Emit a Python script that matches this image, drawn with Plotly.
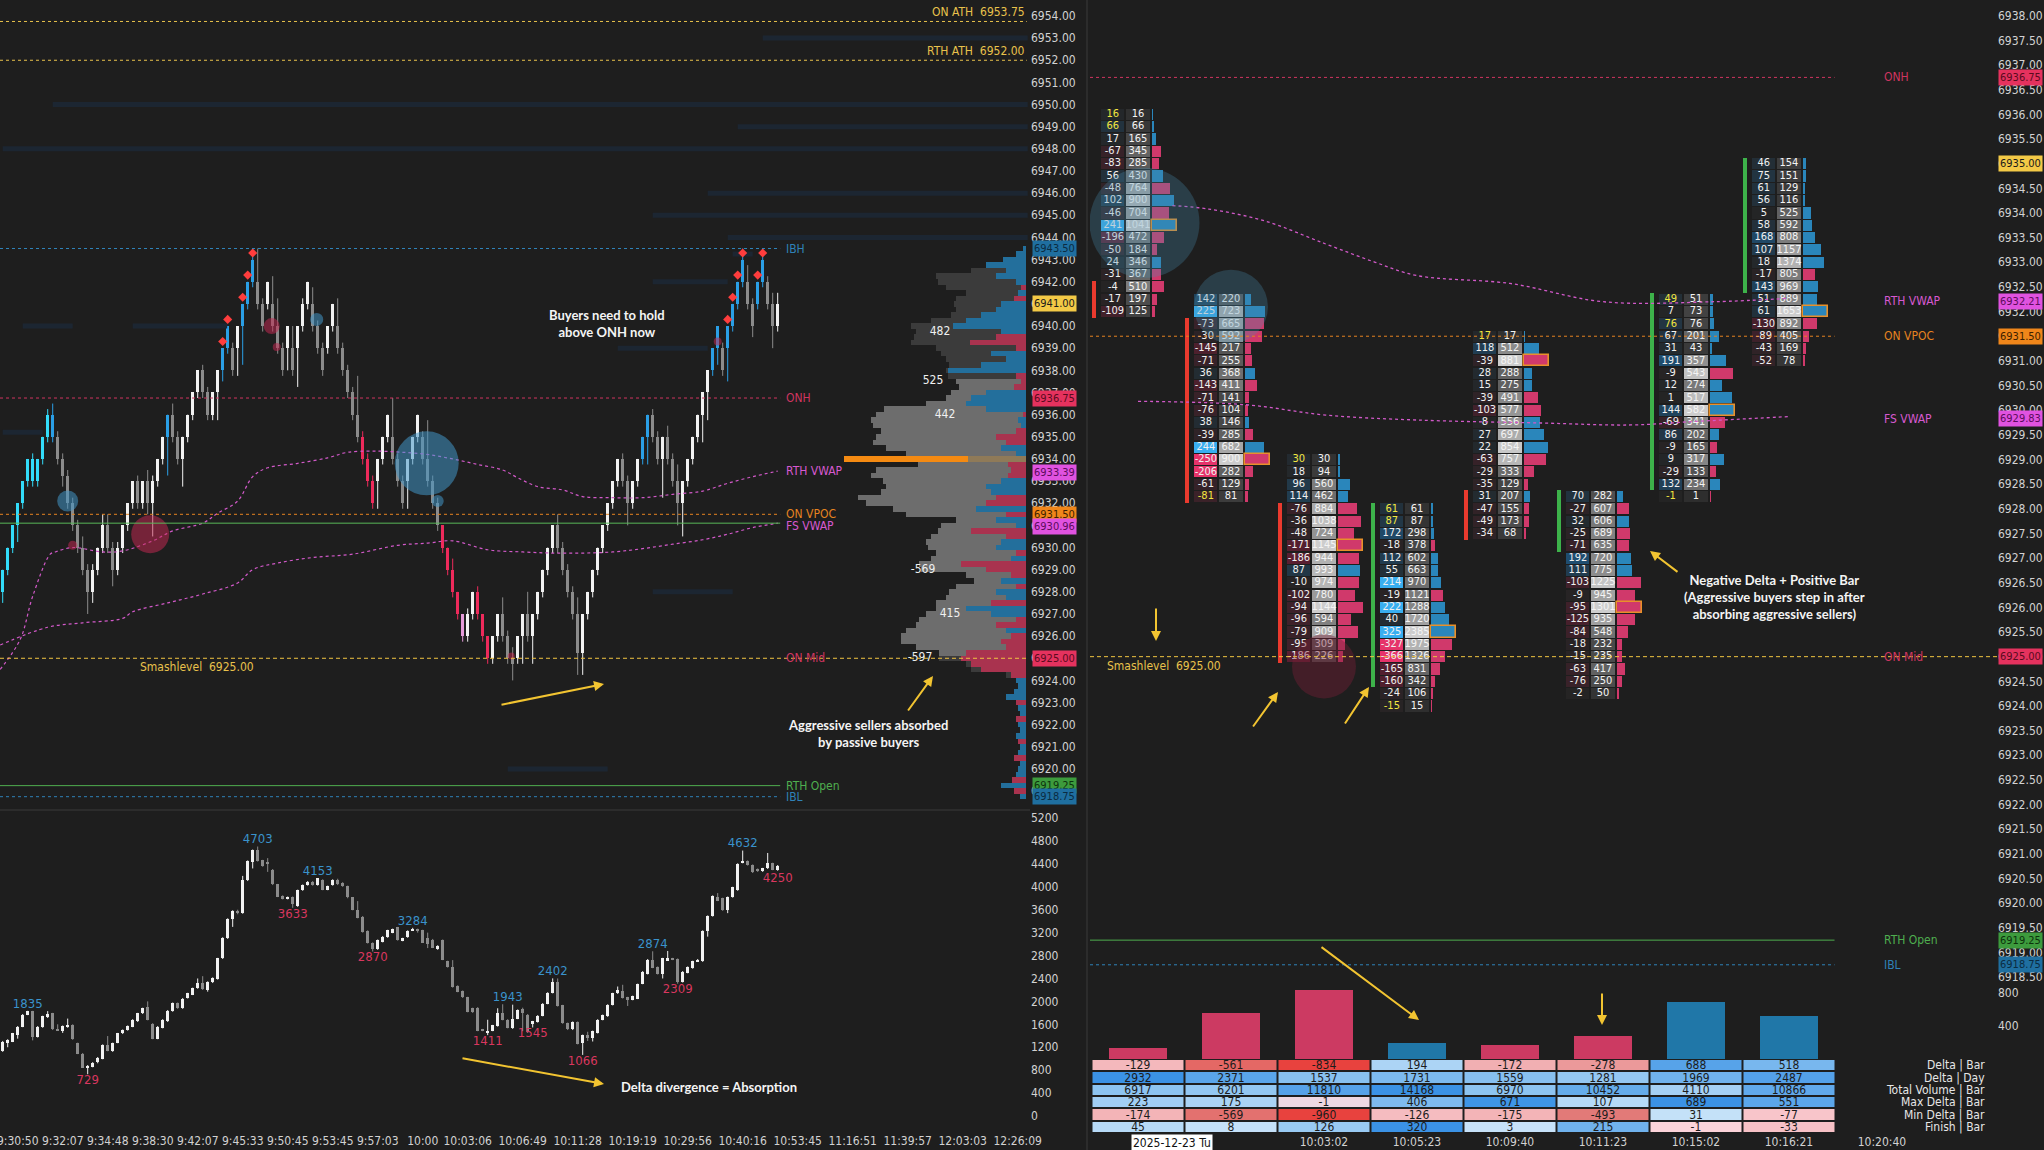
import plotly.graph_objects as go

W, H = 2044, 1150
BG = '#1e1e1e'
AXIS_TXT = '#d2d2d2'
NARROW = 'Liberation Sans Narrow, DejaVu Sans Condensed, Arial Narrow, sans-serif'
NOTE_FONT = 'Lato, Inter, sans-serif'

# ---------------- left chart: price candles (open, high, low, close) ----------------
price_ohlc = [
    (6928.0, 6929.0, 6927.5, 6929.0), (6929.0, 6930.0, 6928.75, 6930.0), (6930.0, 6931.0, 6929.75, 6931.0),
    (6931.0, 6932.0, 6930.25, 6932.0), (6932.0, 6933.0, 6931.75, 6933.0), (6933.0, 6934.0, 6932.75, 6934.0),
    (6934.0, 6934.25, 6932.75, 6933.0), (6933.0, 6934.0, 6932.75, 6934.0), (6934.0, 6935.0, 6933.75, 6935.0),
    (6935.0, 6936.25, 6934.75, 6936.0), (6936.0, 6936.5, 6934.75, 6935.0), (6935.0, 6935.25, 6933.75, 6934.0),
    (6934.0, 6934.25, 6932.75, 6933.25), (6933.25, 6933.5, 6931.75, 6932.0), (6932.0, 6932.25, 6930.75, 6931.0),
    (6931.0, 6931.25, 6929.75, 6930.0), (6930.0, 6930.5, 6928.75, 6929.0), (6929.0, 6929.25, 6927.0, 6928.0),
    (6928.0, 6929.25, 6927.5, 6929.0), (6929.0, 6930.0, 6928.75, 6930.0), (6930.0, 6931.5, 6929.75, 6931.0),
    (6931.0, 6931.5, 6929.75, 6930.0), (6930.0, 6930.25, 6928.25, 6929.0), (6929.0, 6930.25, 6928.75, 6930.0),
    (6930.0, 6931.0, 6929.75, 6931.0), (6931.0, 6932.0, 6930.75, 6932.0), (6932.0, 6933.0, 6931.75, 6933.0),
    (6933.0, 6933.25, 6931.75, 6932.0), (6932.0, 6933.0, 6931.75, 6933.0), (6933.0, 6933.5, 6931.5, 6932.0),
    (6932.0, 6933.25, 6930.5, 6933.0), (6933.0, 6934.0, 6932.75, 6934.0), (6934.0, 6935.0, 6933.75, 6935.0),
    (6935.0, 6936.0, 6933.25, 6936.0), (6936.0, 6936.5, 6934.75, 6935.0), (6935.0, 6935.25, 6933.75, 6934.0),
    (6934.0, 6935.0, 6932.75, 6935.0), (6935.0, 6936.0, 6934.75, 6936.0), (6936.0, 6937.0, 6935.75, 6937.0),
    (6937.0, 6938.0, 6936.75, 6938.0), (6938.0, 6938.25, 6936.75, 6937.0), (6937.0, 6937.25, 6935.75, 6936.0),
    (6936.0, 6937.0, 6935.75, 6937.0), (6937.0, 6938.0, 6935.75, 6938.0), (6938.0, 6939.0, 6937.5, 6939.0),
    (6939.0, 6940.0, 6938.75, 6940.0), (6939.0, 6939.25, 6937.75, 6938.0), (6939.0, 6940.0, 6937.75, 6940.0),
    (6940.0, 6941.0, 6938.25, 6941.0), (6941.0, 6942.0, 6940.75, 6942.0), (6942.0, 6943.5, 6941.75, 6943.0),
    (6942.0, 6943.5, 6940.75, 6941.0), (6941.0, 6941.25, 6939.75, 6940.0), (6941.0, 6942.0, 6940.75, 6942.0),
    (6941.0, 6942.25, 6939.75, 6940.0), (6940.0, 6941.25, 6938.75, 6939.0), (6939.0, 6939.25, 6937.75, 6938.0),
    (6939.0, 6940.0, 6938.0, 6940.0), (6939.0, 6940.0, 6937.75, 6938.0), (6939.0, 6940.0, 6937.25, 6940.0),
    (6940.0, 6941.25, 6939.75, 6941.0), (6941.0, 6942.0, 6940.75, 6942.0), (6941.0, 6941.75, 6939.75, 6940.0),
    (6940.0, 6940.25, 6938.75, 6939.0), (6939.0, 6939.25, 6937.75, 6938.0), (6939.0, 6940.0, 6938.75, 6940.0),
    (6940.0, 6941.0, 6939.75, 6941.0), (6940.0, 6941.25, 6938.75, 6939.0), (6939.0, 6939.25, 6937.75, 6938.0),
    (6938.0, 6938.25, 6936.75, 6937.0), (6937.0, 6937.25, 6935.75, 6936.0), (6936.0, 6937.75, 6934.75, 6935.0),
    (6935.0, 6935.25, 6933.75, 6934.0), (6934.0, 6934.25, 6932.75, 6933.0), (6933.0, 6933.25, 6931.75, 6932.0),
    (6933.0, 6934.0, 6931.75, 6934.0), (6934.0, 6935.0, 6933.75, 6935.0), (6935.0, 6936.0, 6934.75, 6936.0),
    (6935.0, 6936.75, 6933.75, 6934.0), (6934.0, 6934.25, 6932.75, 6933.0), (6933.0, 6933.25, 6931.75, 6932.0),
    (6933.0, 6934.0, 6931.75, 6934.0), (6934.0, 6935.0, 6933.75, 6935.0), (6935.0, 6936.0, 6934.75, 6936.0),
    (6935.0, 6935.25, 6933.75, 6934.0), (6934.0, 6935.75, 6932.75, 6933.0), (6933.0, 6933.25, 6931.75, 6932.0),
    (6932.0, 6932.25, 6930.75, 6931.0), (6931.0, 6931.0, 6929.75, 6930.0), (6930.0, 6930.0, 6928.75, 6929.0),
    (6929.0, 6929.5, 6927.75, 6928.0), (6928.0, 6928.0, 6926.75, 6927.0), (6927.0, 6927.0, 6925.75, 6926.0),
    (6926.0, 6927.25, 6925.75, 6927.0), (6927.0, 6928.0, 6926.75, 6928.0), (6928.0, 6928.25, 6926.75, 6927.0),
    (6927.0, 6927.0, 6925.75, 6926.0), (6926.0, 6926.0, 6924.75, 6925.0), (6925.0, 6926.0, 6924.75, 6926.0),
    (6926.0, 6927.0, 6925.75, 6927.0), (6927.0, 6927.75, 6925.75, 6926.0), (6926.0, 6926.25, 6924.75, 6925.0),
    (6925.0, 6925.5, 6924.0, 6924.75), (6925.0, 6926.0, 6924.75, 6926.0), (6926.0, 6927.0, 6924.75, 6927.0),
    (6927.0, 6928.0, 6925.75, 6926.0), (6926.0, 6927.0, 6924.75, 6927.0), (6927.0, 6928.0, 6926.75, 6928.0),
    (6928.0, 6929.0, 6927.75, 6929.0), (6929.0, 6930.0, 6928.75, 6930.0), (6930.0, 6931.0, 6929.75, 6931.0),
    (6931.0, 6931.5, 6929.75, 6930.0), (6930.0, 6930.25, 6928.75, 6929.0), (6929.0, 6929.25, 6927.75, 6928.0),
    (6928.0, 6928.25, 6926.75, 6927.0), (6927.0, 6927.75, 6924.25, 6925.25), (6925.25, 6927.0, 6924.25, 6927.0),
    (6927.0, 6928.0, 6926.75, 6928.0), (6928.0, 6929.0, 6927.75, 6929.0), (6929.0, 6930.0, 6928.75, 6930.0),
    (6930.0, 6931.0, 6929.75, 6931.0), (6931.0, 6932.0, 6930.75, 6932.0), (6932.0, 6933.0, 6931.75, 6933.0),
    (6933.0, 6934.0, 6932.75, 6934.0), (6934.0, 6934.25, 6932.75, 6933.0), (6933.0, 6933.25, 6931.0, 6932.0),
    (6932.0, 6933.0, 6931.75, 6933.0), (6933.0, 6934.0, 6932.75, 6934.0), (6934.0, 6935.0, 6933.75, 6935.0),
    (6935.0, 6936.0, 6933.75, 6936.0), (6936.0, 6936.25, 6934.75, 6935.0), (6935.0, 6935.25, 6933.75, 6934.0),
    (6934.0, 6935.0, 6932.25, 6935.0), (6935.0, 6935.5, 6933.75, 6934.0), (6934.0, 6934.25, 6932.75, 6933.0),
    (6933.0, 6933.75, 6931.0, 6932.0), (6932.0, 6933.0, 6930.5, 6933.0), (6933.0, 6934.0, 6932.75, 6934.0),
    (6934.0, 6935.0, 6933.75, 6935.0), (6935.0, 6936.0, 6934.75, 6936.0), (6936.0, 6937.0, 6934.75, 6937.0),
    (6937.0, 6938.0, 6935.75, 6938.0), (6938.0, 6939.0, 6937.75, 6939.0), (6939.0, 6940.0, 6938.25, 6940.0),
    (6939.0, 6939.25, 6937.75, 6938.0), (6939.0, 6940.0, 6937.5, 6940.0), (6940.0, 6941.0, 6939.75, 6941.0),
    (6941.0, 6942.0, 6940.75, 6942.0), (6942.0, 6943.5, 6941.75, 6943.0), (6942.0, 6942.75, 6940.75, 6941.0),
    (6941.0, 6941.25, 6939.5, 6940.0), (6941.0, 6942.0, 6940.75, 6942.0), (6942.0, 6943.5, 6941.75, 6943.0),
    (6942.0, 6942.25, 6940.75, 6941.0), (6941.0, 6941.5, 6939.0, 6940.0), (6940.0, 6941.5, 6939.75, 6941.0),
]
# order-flow tint per bar: c strong buy, b buy, w up, g down, r sell, p weak sell
bar_flag = ("cccccccccc" "b" "ggggggg" "www" "gg" "wwww" "g" "w" "g" "www" "b" "gg" "wwww" "gg" "ww"
            "bb" "g" "w" "bbb" "gg" "w" "ggg" "w" "g" "www" "ggg" "ww" "ggggg" "rrr" "www" "ggg" "www"
            "gggg" "rrrr" "p" "ww" "rrr" "ww" "ggg" "ww" "g" "wwwww" "ggggg" "wwwwwwww" "gg" "ww" "bb"
            "gg" "w" "ggg" "wwwwww" "bb" "g" "bbbb" "gg" "bb" "gg" "w")
diamond_bars = [44, 45, 48, 49, 50, 145, 146, 147, 148, 151, 152]

time_tick_bars = [3, 12, 21, 30, 39, 48, 57, 66, 75, 84, 93, 104, 115, 126, 137, 148, 159, 170, 181, 192, 203]
time_tick_text = ['9:30:50', '9:32:07', '9:34:48', '9:38:30', '9:42:07', '9:45:33', '9:50:45', '9:53:45',
                  '9:57:03', '10:00', '10:03:06', '10:06:49', '10:11:28', '10:19:19', '10:29:56', '10:40:16',
                  '10:53:45', '11:16:51', '11:39:57', '12:03:03', '12:26:09']

# cumulative delta candles (open, high, low, close)
delta_ohlc = [
    (1140, 1310, 1120, 1300), (1270, 1340, 1200, 1330), (1300, 1450, 1290, 1440), (1410, 1570, 1350, 1560),
    (1560, 1780, 1550, 1770), (1770, 1835, 1760, 1835), (1830, 1835, 1320, 1385), (1380, 1570, 1370, 1560),
    (1560, 1750, 1540, 1740), (1720, 1830, 1710, 1780), (1790, 1800, 1500, 1510), (1520, 1600, 1490, 1500),
    (1480, 1580, 1450, 1570), (1550, 1700, 1540, 1590), (1590, 1600, 1330, 1340), (1270, 1280, 1080, 1090),
    (1090, 1100, 840, 843), (850, 890, 729, 880), (860, 940, 850, 930), (935, 1030, 920, 1020),
    (1000, 1250, 990, 1240), (1240, 1395, 1130, 1140), (1140, 1280, 1120, 1270), (1280, 1450, 1270, 1440),
    (1440, 1510, 1430, 1500), (1500, 1580, 1490, 1570), (1560, 1690, 1550, 1680), (1650, 1800, 1640, 1790),
    (1790, 1890, 1780, 1880), (1900, 2000, 1670, 1680), (1610, 1620, 1340, 1350), (1350, 1570, 1340, 1560),
    (1540, 1690, 1530, 1680), (1650, 1850, 1640, 1840), (1830, 1980, 1820, 1970), (1970, 1980, 1870, 1880),
    (1880, 2060, 1870, 2050), (2060, 2150, 2050, 2140), (2120, 2240, 2110, 2230), (2230, 2400, 2220, 2320),
    (2320, 2440, 2200, 2210), (2200, 2350, 2170, 2340), (2330, 2420, 2320, 2410), (2390, 2760, 2380, 2750),
    (2750, 3120, 2740, 3110), (3100, 3450, 3090, 3440), (3430, 3590, 3300, 3580), (3580, 3600, 3520, 3540),
    (3540, 4190, 3530, 4120), (4110, 4460, 4100, 4450), (4440, 4650, 4320, 4640), (4640, 4703, 4440, 4450),
    (4460, 4470, 4350, 4370), (4420, 4500, 4260, 4400), (4300, 4310, 4030, 4040), (4040, 4050, 3820, 3830),
    (3840, 3850, 3780, 3790), (3790, 3830, 3780, 3820), (3820, 3830, 3633, 3700), (3660, 3950, 3650, 3940),
    (3940, 4040, 3930, 4030), (4030, 4100, 4020, 4090), (4090, 4100, 4020, 4030), (4030, 4153, 4020, 4150),
    (4120, 4130, 3940, 3950), (3950, 4020, 3940, 4010), (4030, 4130, 4020, 4120), (4120, 4140, 4030, 4040),
    (4070, 4080, 4000, 4010), (4010, 4020, 3800, 3815), (3815, 3820, 3590, 3594), (3600, 3750, 3450, 3460),
    (3480, 3490, 3200, 3215), (3230, 3240, 3010, 3025), (3025, 3030, 2870, 2907), (2907, 3080, 2900, 3070),
    (3040, 3140, 3030, 3130), (3120, 3250, 3110, 3245), (3200, 3270, 3190, 3260), (3290, 3300, 3060, 3070),
    (3060, 3110, 3050, 3100), (3120, 3240, 3110, 3230), (3240, 3284, 3230, 3250), (3250, 3270, 3200, 3240),
    (3240, 3250, 3020, 3025), (3100, 3200, 2930, 3000), (3080, 3090, 2930, 2940), (2920, 2980, 2900, 2970),
    (3070, 3080, 2720, 2730), (2700, 2710, 2590, 2600), (2600, 2720, 2240, 2250), (2270, 2280, 2160, 2170),
    (2180, 2190, 2060, 2070), (2070, 2080, 1810, 1820), (1880, 1890, 1800, 1810), (1890, 1900, 1480, 1490),
    (1510, 1520, 1480, 1490), (1460, 1680, 1411, 1490), (1490, 1590, 1480, 1580), (1570, 1880, 1560, 1790),
    (1790, 1950, 1670, 1680), (1680, 1690, 1530, 1540), (1530, 1943, 1520, 1700), (1700, 1860, 1690, 1850),
    (1860, 1890, 1480, 1790), (1770, 1780, 1450, 1460), (1600, 1660, 1545, 1650), (1640, 1760, 1630, 1750),
    (1750, 1970, 1740, 1960), (1960, 2160, 1950, 2150), (2150, 2402, 2140, 2340), (2330, 2400, 1910, 1920),
    (1930, 1940, 1610, 1620), (1620, 1630, 1500, 1510), (1510, 1650, 1500, 1640), (1640, 1650, 1250, 1260),
    (1270, 1420, 1066, 1410), (1410, 1470, 1310, 1370), (1360, 1490, 1300, 1480), (1450, 1690, 1440, 1680),
    (1680, 1770, 1670, 1760), (1740, 1950, 1730, 1940), (1940, 2150, 1930, 2140), (2140, 2260, 2130, 2200),
    (2190, 2290, 2050, 2060), (2070, 2080, 1920, 2020), (2030, 2100, 2020, 2090), (2050, 2310, 2040, 2300),
    (2310, 2530, 2300, 2520), (2480, 2740, 2470, 2730), (2730, 2874, 2580, 2590), (2600, 2610, 2470, 2480),
    (2480, 2760, 2400, 2750), (2720, 2880, 2710, 2750), (2740, 2760, 2720, 2730), (2740, 2750, 2309, 2340),
    (2340, 2530, 2330, 2520), (2500, 2610, 2490, 2600), (2580, 2710, 2570, 2700), (2700, 2740, 2690, 2730),
    (2700, 3240, 2690, 3230), (3220, 3500, 3130, 3490), (3490, 3850, 3480, 3840), (3830, 3890, 3750, 3760),
    (3800, 3810, 3580, 3590), (3590, 3830, 3540, 3820), (3820, 4000, 3810, 3990), (3940, 4410, 3930, 4400),
    (4420, 4632, 4410, 4450), (4450, 4460, 4370, 4380), (4380, 4390, 4240, 4250), (4310, 4320, 4260, 4270),
    (4270, 4330, 4260, 4320), (4320, 4590, 4310, 4410), (4410, 4420, 4290, 4300), (4290, 4380, 4280, 4370),
]
swing_high_bars = [5, 51, 63, 82, 101, 110, 130, 148]
swing_high_vals = [1835, 4703, 4153, 3284, 1943, 2402, 2874, 4632]
swing_low_bars = [17, 58, 74, 97, 106, 116, 135, 155]
swing_low_vals = [729, 3633, 2870, 1411, 1545, 1066, 2309, 4250]

# session VWAPs sampled along the chart (bar index, price)
rth_vwap_bars = [-0.5, 3.5, 6, 9.5, 10.5, 14, 20, 24, 30, 34, 40, 43, 47, 50, 53, 59, 65, 69, 75, 80, 85, 90,
                 95, 100, 103, 107, 112, 116, 122, 128, 134, 140, 145, 150, 155]
rth_vwap_vals = [6924.5, 6925.85, 6927.8, 6929.7, 6929.8, 6930.0, 6929.8, 6929.85, 6930.3, 6930.75, 6931.1,
                 6931.55, 6932.1, 6933.2, 6933.6, 6933.8, 6934.05, 6934.3, 6934.35, 6934.3, 6934.2, 6934.0,
                 6933.75, 6933.5, 6933.15, 6932.75, 6932.6, 6932.3, 6932.25, 6932.25, 6932.4, 6932.55,
                 6932.9, 6933.2, 6933.45]
fs_vwap_bars = [-0.5, 9, 16, 24, 26, 33, 40, 47, 50, 55, 62, 70, 79, 85, 90, 97, 104, 110, 116, 122, 128,
                134, 140, 145, 150, 155]
fs_vwap_vals = [6925.6, 6926.4, 6926.6, 6926.8, 6927.1, 6927.5, 6927.9, 6928.4, 6929.0, 6929.3, 6929.55,
                6929.7, 6930.1, 6930.2, 6930.3, 6929.9, 6929.8, 6929.75, 6929.75, 6929.8, 6929.95, 6930.15,
                6930.35, 6930.6, 6930.9, 6931.1]

# large trades (bar, price, contracts, side)
big_bars = [13, 14, 29.5, 53.8, 54.8, 62.8, 84.8, 87, 101.7, 143]
big_prices = [6932.1, 6930.1, 6930.6, 6940.0, 6939.05, 6940.3, 6933.8, 6932.1, 6925.1, 6939.3]
big_qty = [91, 17, 298, 53, 13, 35, 846, 30, 10, 13]
big_side = ['buy', 'sell', 'sell', 'sell', 'sell', 'buy', 'buy', 'buy', 'sell', 'sell']

# resting liquidity (price, from bar, to bar)
liq_price = [6953.0, 6950.0, 6949.0, 6948.0, 6946.0, 6945.0, 6944.0, 6943.25, 6942.0, 6940.0, 6940.0,
             6939.0, 6935.2, 6928.0, 6920.0]
liq_from = [152, 10, 147, 0, 141, 130, 145, 146, 130, 4, 26, 123, 0, 130, 101]
liq_to = [205, 205, 205, 205, 205, 205, 205, 150, 145, 14, 45, 141, 8, 146, 121]

# session volume profile, top price 6943.50 down in 0.25 steps
profile_top = 6943.5
profile_vol = [30, 100, 230, 400, 550, 900, 880, 800, 600, 700,
               720, 700, 750, 950, 1150, 1100, 1120, 1150, 900, 850,
               800, 770, 800, 780, 700, 670, 750, 800, 1000, 1420,
               1500, 1550, 1530, 1450, 1500, 1530, 1400, 1200, 1820, 1080,
               1500, 1550, 1430, 1400, 1450, 1680, 1600, 1330, 1200, 700,
               850, 880, 950, 1000, 980, 900, 950, 1070, 1050, 600,
               520, 700, 770, 800, 900, 900, 1000, 1070, 1100, 1200,
               1250, 1250, 1100, 870, 870, 600, 550, 200, 100, 80,
               120, 200, 100, 80, 60, 100, 80, 60, 100, 80,
               60, 80, 120, 60, 80, 100, 140, 250, 120, 60]
profile_delta = [30, 100, 230, 400, 200, 300, 100, -50, 80, -120,
                 250, 300, 450, 600, 730, 250, -300, -560, -100, 350,
                 200, 450, 780, -100, -50, -120, 400, 550, 600, 400,
                 -30, 80, 50, -100, -300, -200, 250, 100, 580, -180,
                 -150, -180, 250, 400, 350, -300, -400, 500, -200, 300,
                 100, -550, -200, 250, 300, -100, 150, -650, -400, -150,
                 250, -100, 300, 200, -350, 600, 350, -100, -300, 200,
                 -150, -250, -200, -600, -650, -550, -450, -150, 100, 80,
                 120, 200, -100, 80, 60, -100, 80, 60, 100, -80,
                 60, 80, -120, 60, 80, 100, -140, 250, -120, 60]
VAH, VAL, POC = 6937.5, 6925.25, 6934.0
profile_note_text = ['482', '525', '442', '-569', '415', '-597']
profile_note_price = [6939.75, 6937.5, 6936.0, 6929.0, 6927.0, 6925.0]

# key levels
ON_ATH, RTH_ATH, IBH, ONH = 6953.75, 6952.00, 6943.50, 6936.75
ON_VPOC, FS_LINE, ON_MID, RTH_OPEN, IBL = 6931.50, 6931.10, 6925.00, 6919.25, 6918.75
LAST_LEFT, RTH_VWAP_NOW, FS_VWAP_NOW = 6941.00, 6933.39, 6930.96

# ---------------- right chart: footprint bars ----------------
fp_top = [6936.0, 6932.25, 6929.0, 6928.0, 6931.5, 6928.25, 6932.25, 6935.0]
fp_open = [6932.5, 6931.75, 6928.0, 6924.5, 6928.25, 6927.25, 6928.5, 6932.5]
fp_close = [6932.0, 6928.25, 6925.0, 6928.0, 6927.5, 6928.25, 6932.25, 6935.0]
fp_delta = [
    [16, 66, 17, -67, -83, 56, -48, 102, -46, 241, -196, -50, 24, -31, -4, -17, -109],
    [142, 225, -73, -30, -145, -71, 36, -143, -71, -76, 38, -39, 244, -250, -206, -61, -81],
    [30, 18, 96, 114, -76, -36, -48, -171, -186, 87, -10, -102, -94, -96, -79, -95, -186],
    [61, 87, 172, -18, 112, 55, 214, -19, 222, 40, 325, -327, -366, -165, -160, -24, -15],
    [17, 118, -39, 28, 15, -39, -103, 8, 27, 22, -63, -29, -35, 31, -47, -49, -34],
    [70, -27, 32, -25, -71, 192, 111, -103, -9, -95, -125, -84, -18, -15, -63, -76, -2],
    [49, 7, 76, 67, 31, 191, -9, 12, 1, 144, -69, 86, -9, 9, -29, 132, -1],
    [46, 75, 61, 56, 5, 58, 168, 107, 18, -17, 143, 51, 61, -130, -89, -43, -52],
]
fp_vol = [
    [16, 66, 165, 345, 285, 430, 764, 900, 704, 1041, 472, 184, 346, 367, 510, 197, 125],
    [220, 723, 665, 592, 217, 255, 368, 411, 141, 104, 146, 285, 682, 900, 282, 129, 81],
    [30, 94, 560, 462, 884, 1038, 724, 1145, 944, 993, 974, 780, 1144, 594, 909, 309, 226],
    [61, 87, 298, 378, 602, 663, 970, 1121, 1288, 1720, 2385, 1975, 1326, 831, 342, 106, 15],
    [17, 512, 881, 288, 275, 491, 577, 556, 697, 854, 757, 333, 129, 207, 155, 173, 68],
    [282, 607, 606, 689, 635, 720, 775, 1225, 945, 1301, 935, 548, 232, 235, 417, 250, 50],
    [51, 73, 76, 201, 43, 357, 543, 274, 517, 582, 341, 202, 165, 317, 133, 234, 1],
    [154, 151, 129, 116, 525, 592, 808, 1157, 1374, 805, 969, 889, 1653, 892, 405, 169, 78],
]
fp_tick_bars = [2, 3, 4, 5, 6, 7, 8]
fp_tick_text = ['10:03:02', '10:05:23', '10:09:40', '10:11:23', '10:15:02', '10:16:21', '10:20:40']
fp_date = '2025-12-23 Tu'

fp_rth_vwap_x = [0.37, 0.76, 1.36, 2.02, 2.55, 3.0, 4.0, 5.0, 6.2, 7.0]
fp_rth_vwap_y = [6934.15, 6934.08, 6933.84, 6933.37, 6933.0, 6932.73, 6932.57, 6932.2, 6932.2, 6932.27]
fp_fs_vwap_x = [0.0, 1.16, 2.02, 3.0, 4.33, 5.3, 5.98, 7.0]
fp_fs_vwap_y = [6930.18, 6930.11, 6929.9, 6929.8, 6929.74, 6929.7, 6929.77, 6929.87]
FP_LAST, FP_RTH_VWAP, FP_FS_VWAP = 6935.00, 6932.21, 6929.83

fp_big_bars = [0.07, 1.0, 2.0]
fp_big_prices = [6933.8, 6932.1, 6924.8]
fp_big_qty = [2500, 1131, 846]
fp_big_side = ['buy', 'buy', 'sell']

table_labels = ['Delta | Bar', 'Delta | Day', 'Total Volume | Bar', 'Max Delta | Bar', 'Min Delta | Bar', 'Finish | Bar']
delta_bar = [-129, -561, -834, 194, -172, -278, 688, 518]
delta_day = [2932, 2371, 1537, 1731, 1559, 1281, 1969, 2487]
total_volume = [6917, 6201, 11810, 14168, 6970, 10452, 4110, 10866]
max_delta = [223, 175, -1, 406, 671, 107, 689, 551]
min_delta = [-174, -569, -960, -126, -175, -493, 31, -77]
finish = [45, 8, 126, 320, 3, 215, -1, -33]


# ---------------- helpers ----------------
def fx(px):
    return px / W


def fy(py):
    return 1 - py / H


def mix(c1, c2, t):
    t = max(0.0, min(1.0, t))
    a = [int(c1[i:i + 2], 16) for i in (1, 3, 5)]
    b = [int(c2[i:i + 2], 16) for i in (1, 3, 5)]
    return 'rgb(%d,%d,%d)' % tuple(round(a[j] + (b[j] - a[j]) * t) for j in range(3))


FLAG_COLORS = {'c': '#33dcfa', 'b': '#2b9fe6', 'w': '#f2f2f2', 'g': '#8c8c8c', 'r': '#ee2b5c', 'p': '#e59ad9'}
SIDE_COLORS = {'buy': 'rgba(66,150,200,0.78)', 'sell': 'rgba(196,40,82,0.75)'}

fig = go.Figure()

# ---------- left: resting liquidity ----------
lx, ly = [], []
for p, a, b in zip(liq_price, liq_from, liq_to):
    lx += [a, b, None]
    ly += [p, p, None]
fig.add_trace(go.Scatter(x=lx, y=ly, mode='lines', line=dict(color='#1c2632', width=5),
                         xaxis='x', yaxis='y', hoverinfo='skip'))

# ---------- left: candles ----------
n = len(price_ohlc)
bars = list(range(n))
for flag, col in FLAG_COLORS.items():
    idx = [i for i in bars if bar_flag[i] == flag]
    if not idx:
        continue
    wx, wy = [], []
    for i in idx:
        o, h, l, c = price_ohlc[i]
        wx += [i, i, None]
        wy += [l, h, None]
    fig.add_trace(go.Scatter(x=wx, y=wy, mode='lines', line=dict(color=col, width=1),
                             xaxis='x', yaxis='y', hoverinfo='skip'))
    fig.add_trace(go.Bar(x=idx, y=[max(abs(price_ohlc[i][3] - price_ohlc[i][0]), 0.06) for i in idx],
                         base=[min(price_ohlc[i][0], price_ohlc[i][3]) for i in idx], width=0.62,
                         marker=dict(color=col, line=dict(width=0)), xaxis='x', yaxis='y', hoverinfo='skip'))

# VWAP curves
for xs, ys in ((rth_vwap_bars, rth_vwap_vals), (fs_vwap_bars, fs_vwap_vals)):
    fig.add_trace(go.Scatter(x=xs, y=ys, mode='lines', line=dict(color='#d259c9', width=1.2, dash='dot', shape='spline'),
                             xaxis='x', yaxis='y', hoverinfo='skip'))

# diamonds
fig.add_trace(go.Scatter(x=diamond_bars, y=[price_ohlc[i][3] + 0.3 for i in diamond_bars], mode='markers',
                         marker=dict(symbol='diamond', size=7, color='#ff3d3d'), xaxis='x', yaxis='y',
                         hoverinfo='skip'))

# big trades
fig.add_trace(go.Scatter(x=big_bars, y=big_prices, mode='markers',
                         marker=dict(size=[2.2 * q ** 0.5 for q in big_qty],
                                     color=[SIDE_COLORS[s] for s in big_side], line=dict(width=0)),
                         xaxis='x', yaxis='y', hoverinfo='skip'))

# ---------- left: volume profile ----------
prof_prices = [profile_top - 0.25 * k for k in range(len(profile_vol))]
prof_cols = []
for p in prof_prices:
    if p == POC:
        prof_cols.append('#f48a12')
    elif VAL <= p <= VAH:
        prof_cols.append('#6d6d6d')
    else:
        prof_cols.append('#3b3b3b')
fig.add_trace(go.Bar(y=prof_prices, x=profile_vol, orientation='h', width=0.25,
                     marker=dict(color=prof_cols, line=dict(width=0)), xaxis='x6', yaxis='y', hoverinfo='skip'))
dcols = []
for p, d in zip(prof_prices, profile_delta):
    if p == POC:
        dcols.append('#8f7a58')
    else:
        dcols.append('#236f9c' if d > 0 else '#a9334f')
fig.add_trace(go.Bar(y=prof_prices, x=[abs(d) for d in profile_delta], orientation='h', width=0.25,
                     marker=dict(color=dcols, line=dict(width=0)), xaxis='x6', yaxis='y', hoverinfo='skip'))
note_depth = [860, 930, 810, 1030, 760, 1060]
fig.add_trace(go.Scatter(x=note_depth, y=profile_note_price, text=profile_note_text, mode='text',
                         textfont=dict(family=NARROW, size=12, color='#f0f0f0'), xaxis='x6', yaxis='y',
                         hoverinfo='skip'))

# ---------- left: cumulative delta ----------
for up, col in ((True, '#f2f2f2'), (False, '#8c8c8c')):
    idx = [i for i in bars if (delta_ohlc[i][3] >= delta_ohlc[i][0]) == up]
    wx, wy = [], []
    for i in idx:
        o, h, l, c = delta_ohlc[i]
        wx += [i, i, None]
        wy += [l, h, None]
    fig.add_trace(go.Scatter(x=wx, y=wy, mode='lines', line=dict(color=col, width=1),
                             xaxis='x2', yaxis='y2', hoverinfo='skip'))
    fig.add_trace(go.Bar(x=idx, y=[max(abs(delta_ohlc[i][3] - delta_ohlc[i][0]), 10) for i in idx],
                         base=[min(delta_ohlc[i][0], delta_ohlc[i][3]) for i in idx], width=0.62,
                         marker=dict(color=col, line=dict(width=0)), xaxis='x2', yaxis='y2', hoverinfo='skip'))
fig.add_trace(go.Scatter(x=swing_high_bars, y=swing_high_vals, text=[str(v) for v in swing_high_vals],
                         mode='text', textposition='top center',
                         textfont=dict(family=NARROW, size=13, color='#3a93cc'), xaxis='x2', yaxis='y2',
                         hoverinfo='skip'))
fig.add_trace(go.Scatter(x=swing_low_bars, y=swing_low_vals, text=[str(v) for v in swing_low_vals],
                         mode='text', textposition='bottom center',
                         textfont=dict(family=NARROW, size=13, color='#d9375f'), xaxis='x2', yaxis='y2',
                         hoverinfo='skip'))

# ---------- right: footprint ----------
dc_y, dc_base, dc_col, dt_col, dt_txt = [], [], [], [], []
vc_y, vc_col, vt_txt = [], [], []
hy, hlen, hbase, hcol, hlw = [], [], [], [], []
vc_base, vt_x, dt_x = [], [], []
for i in range(len(fp_top)):
    vmax = max(fp_vol[i])
    for k, (dv, vv) in enumerate(zip(fp_delta[i], fp_vol[i])):
        p = fp_top[i] - 0.25 * k
        # delta cell
        dc_y.append(p)
        dc_base.append(i - 0.395)
        if dv >= 200:
            dc_col.append('#38aef0')
        elif dv <= -200:
            dc_col.append('#e6336a')
        elif dv >= 0:
            dc_col.append(mix('#242424', '#1f4f72', dv / 200))
        else:
            dc_col.append(mix('#242424', '#5c1e31', -dv / 200))
        dt_x.append(i - 0.27)
        dt_txt.append(str(dv))
        dt_col.append('#f2e640' if abs(dv) >= 0.9 * vv else '#f0f0f0')
        # volume cell
        vc_y.append(p)
        vc_base.append(i - 0.125)
        vc_col.append(mix('#2e2e2e', '#cdcdcd', vv / vmax))
        vt_x.append(i)
        vt_txt.append(str(vv))
        # histogram
        hy.append(p)
        hbase.append(i + 0.155)
        hlen.append(0.265 * vv / vmax)
        hcol.append('#2a86bb' if dv > 0 else '#d0396b')
        hlw.append(1.6 if vv == vmax else 0)

fig.add_trace(go.Bar(y=dc_y, x=[0.245] * len(dc_y), base=dc_base, orientation='h', width=0.225,
                     marker=dict(color=dc_col, line=dict(width=0)), xaxis='x3', yaxis='y3', hoverinfo='skip'))
fig.add_trace(go.Bar(y=vc_y, x=[0.25] * len(vc_y), base=vc_base, orientation='h', width=0.225,
                     marker=dict(color=vc_col, line=dict(width=0)), xaxis='x3', yaxis='y3', hoverinfo='skip'))
fig.add_trace(go.Bar(y=hy, x=hlen, base=hbase, orientation='h', width=0.225,
                     marker=dict(color=hcol, line=dict(width=hlw, color='#e8902a')),
                     xaxis='x3', yaxis='y3', hoverinfo='skip'))
fig.add_trace(go.Scatter(x=dt_x, y=dc_y, text=dt_txt, mode='text',
                         textfont=dict(family=NARROW, size=11, color=dt_col), xaxis='x3', yaxis='y3',
                         hoverinfo='skip'))
fig.add_trace(go.Scatter(x=vt_x, y=vc_y, text=vt_txt, mode='text',
                         textfont=dict(family=NARROW, size=11, color='#f4f4f4'), xaxis='x3', yaxis='y3',
                         hoverinfo='skip'))
# bar body strip
fig.add_trace(go.Bar(x=[i - 0.472 for i in range(len(fp_top))],
                     y=[abs(c - o) + 0.25 for o, c in zip(fp_open, fp_close)],
                     base=[min(o, c) - 0.125 for o, c in zip(fp_open, fp_close)], width=0.036,
                     marker=dict(color=['#3db24a' if c > o else '#ea3a2e' for o, c in zip(fp_open, fp_close)],
                                 line=dict(width=0)),
                     xaxis='x3', yaxis='y3', hoverinfo='skip'))
# VWAPs
for xs, ys in ((fp_rth_vwap_x, fp_rth_vwap_y), (fp_fs_vwap_x, fp_fs_vwap_y)):
    fig.add_trace(go.Scatter(x=xs, y=ys, mode='lines', line=dict(color='#d259c9', width=1.3, dash='dot', shape='spline'),
                             xaxis='x3', yaxis='y3', hoverinfo='skip'))
# big trades
fig.add_trace(go.Scatter(x=fp_big_bars, y=fp_big_prices, mode='markers',
                         marker=dict(size=[2.2 * q ** 0.5 for q in fp_big_qty],
                                     color=['rgba(70,140,175,0.42)' if s == 'buy' else 'rgba(120,30,55,0.6)'
                                            for s in fp_big_side], line=dict(width=0)),
                         xaxis='x3', yaxis='y3', hoverinfo='skip'))

# delta per bar
fig.add_trace(go.Bar(x=list(range(len(delta_bar))), y=[abs(v) for v in delta_bar], width=0.63,
                     marker=dict(color=['#2077a8' if v > 0 else '#cc3a62' for v in delta_bar], line=dict(width=0)),
                     xaxis='x4', yaxis='y4', hoverinfo='skip'))

# stats table
rows = [delta_bar, delta_day, total_volume, max_delta, min_delta, finish]
z, txt = [], []
for r in rows:
    m = max(abs(v) for v in r)
    z.append([v / m if v != 0 else 0 for v in r])
    txt.append([str(v) for v in r])
fig.add_trace(go.Heatmap(z=z, x=list(range(8)), y=list(range(6)), text=txt, texttemplate='%{text}',
                         textfont=dict(family=NARROW, size=12, color='#1c1c1c'), zmin=-1, zmax=1,
                         colorscale=[[0, '#e8423e'], [0.25, '#e27c7a'], [0.499, '#fcd3d9'],
                                     [0.5, '#c8e3f9'], [0.75, '#8cc3f1'], [1, '#3b92e5']],
                         showscale=False, xgap=2, ygap=2, xaxis='x5', yaxis='y5', hoverinfo='skip'))

# ---------------- layout ----------------
X_RANGE = [-0.54, 205.46]
FP_RANGE = [-0.516, 9.237]
LEFT_END = n - 0.5
FULL_END = 204.8

shapes = []


def hline(y, x0, x1, color, dash, xref='x', yref='y', width=1):
    shapes.append(dict(type='line', xref=xref, yref=yref, x0=x0, x1=x1, y0=y, y1=y,
                       line=dict(color=color, width=width, dash=dash), layer='above'))


C_YEL, C_RED, C_BLU, C_ORG, C_GRN, C_MAG = '#e9c24c', '#cf3560', '#2f82b8', '#e58320', '#4fae4f', '#d659d0'
hline(ON_ATH, X_RANGE[0], FULL_END, C_YEL, 'dot')
hline(RTH_ATH, X_RANGE[0], FULL_END, C_YEL, 'dot')
hline(IBH, X_RANGE[0], LEFT_END, C_BLU, 'dot')
hline(ONH, X_RANGE[0], LEFT_END, C_RED, 'dot')
hline(ON_VPOC, X_RANGE[0], LEFT_END, C_ORG, 'dot')
hline(FS_LINE, X_RANGE[0], LEFT_END, '#58b858', 'solid')
hline(ON_MID, X_RANGE[0], FULL_END, '#f0c440', '4px,3px')
hline(RTH_OPEN, X_RANGE[0], LEFT_END, C_GRN, 'solid')
hline(IBL, X_RANGE[0], LEFT_END, C_BLU, 'dot')
FP_END = 7.49
hline(ONH, FP_RANGE[0], FP_END, C_RED, 'dot', 'x3', 'y3')
hline(ON_VPOC, FP_RANGE[0], FP_END, C_ORG, 'dot', 'x3', 'y3')
hline(ON_MID, FP_RANGE[0], FP_RANGE[1], '#f0c440', '4px,3px', 'x3', 'y3')
hline(RTH_OPEN, FP_RANGE[0], FP_END, C_GRN, 'solid', 'x3', 'y3')
hline(IBL, FP_RANGE[0], FP_END, C_BLU, 'dot', 'x3', 'y3')
shapes.append(dict(type='line', xref='paper', yref='paper', x0=fx(1087), x1=fx(1087), y0=0, y1=1,
                   line=dict(color='#2c2c2c', width=2)))
shapes.append(dict(type='line', xref='paper', yref='paper', x0=0, x1=fx(1030), y0=fy(810), y1=fy(810),
                   line=dict(color='#2c2c2c', width=2)))

ann = []


def label(x, y, text, color, xref='x', yref='y', xanchor='left', yanchor='middle', size=12):
    ann.append(dict(x=x, y=y, xref=xref, yref=yref, text=text, showarrow=False, xanchor=xanchor,
                    yanchor=yanchor, font=dict(family=NARROW, size=size, color=color)))


def tag(y, text, bg, fg, px, yref):
    ann.append(dict(x=fx(px), y=y, xref='paper', yref=yref, text=text, showarrow=False, xanchor='left',
                    yanchor='middle', bgcolor=bg, borderpad=1,
                    font=dict(family=NARROW, size=11, color=fg)))


label(FULL_END, ON_ATH, 'ON ATH  %.2f' % ON_ATH, C_YEL, xanchor='right', yanchor='bottom')
label(FULL_END, RTH_ATH, 'RTH ATH  %.2f' % RTH_ATH, C_YEL, xanchor='right', yanchor='bottom')
label(27, ON_MID, 'Smashlevel  %.2f' % ON_MID, C_YEL, yanchor='top')
LBL_X = n + 0.2
label(LBL_X, IBH, 'IBH', C_BLU)
label(LBL_X, ONH, 'ONH', C_RED)
label(LBL_X, rth_vwap_vals[-1], 'RTH VWAP', C_MAG)
label(LBL_X, ON_VPOC, 'ON VPOC', C_ORG)
label(LBL_X, fs_vwap_vals[-1] - 0.15, 'FS VWAP', C_MAG)
label(LBL_X, ON_MID, 'ON Mid', C_RED)
label(LBL_X, RTH_OPEN, 'RTH Open', C_GRN)
label(LBL_X, IBL, 'IBL', C_BLU)

FP_LBL = 8.0
label(FP_LBL, ONH, 'ONH', C_RED, 'x3', 'y3')
label(FP_LBL, FP_RTH_VWAP, 'RTH VWAP', C_MAG, 'x3', 'y3')
label(FP_LBL, ON_VPOC, 'ON VPOC', C_ORG, 'x3', 'y3')
label(FP_LBL, FP_FS_VWAP, 'FS VWAP', C_MAG, 'x3', 'y3')
label(FP_LBL, ON_MID, 'ON Mid', C_RED, 'x3', 'y3')
label(FP_LBL, RTH_OPEN, 'RTH Open', C_GRN, 'x3', 'y3')
label(FP_LBL, IBL, 'IBL', C_BLU, 'x3', 'y3')
label(-0.355, ON_MID, 'Smashlevel  %.2f' % ON_MID, C_YEL, 'x3', 'y3', yanchor='top')

T_RED, T_BLU, T_YEL, T_ORG, T_MAG, T_GRN = ('#e5325e', '#5a0b1e'), ('#1f6fa0', '#0b2c42'), ('#f3c946', '#1a1a1a'), \
    ('#f0861a', '#3e1f00'), ('#e052e0', '#5c0c5c'), ('#3d9b3d', '#0c330c')
for y, t in ((IBH, T_BLU), (LAST_LEFT, T_YEL), (ONH, T_RED), (RTH_VWAP_NOW, T_MAG), (ON_VPOC, T_ORG),
             (FS_VWAP_NOW, T_MAG), (ON_MID, T_RED), (RTH_OPEN, T_GRN), (IBL, T_BLU)):
    tag(y, '%.2f' % y, t[0], t[1], 1032, 'y')
for y, t in ((ONH, T_RED), (FP_LAST, T_YEL), (FP_RTH_VWAP, T_MAG), (ON_VPOC, T_ORG), (FP_FS_VWAP, T_MAG),
             (ON_MID, T_RED), (RTH_OPEN, T_GRN), (IBL, T_BLU)):
    tag(y, '%.2f' % y, t[0], t[1], 1998, 'y3')

for r, lab in enumerate(table_labels):
    label(fx(1987), r, lab, '#e6e6e6', 'paper', 'y5', xanchor='right', size=12)

ann.append(dict(x=0.366, y=fy(1143), xref='x5', yref='paper', text=fp_date, showarrow=False,
                xanchor='center', yanchor='middle',
                bgcolor='#ffffff', font=dict(family=NARROW, size=12, color='#111111'), borderpad=1))


def note(px, py, text):
    ann.append(dict(x=fx(px), y=fy(py), xref='paper', yref='paper', text='<b>%s</b>' % text, showarrow=False,
                    align='center', xanchor='center', yanchor='middle',
                    font=dict(family=NOTE_FONT, size=13, color='#f4f4f4')))


note(607, 323, 'Buyers need to hold<br>above ONH now')
note(868, 733, 'Aggressive sellers absorbed<br>by passive buyers')
note(709, 1087, 'Delta divergence = Absorption')
note(1774, 597, 'Negative Delta + Positive Bar<br>(Aggressive buyers step in after<br>absorbing aggressive sellers)')


def arrow(tail, head):
    ann.append(dict(x=fx(head[0]), y=fy(head[1]), xref='paper', yref='paper', text='', showarrow=True,
                    ax=tail[0] - head[0], ay=tail[1] - head[1], arrowcolor='#f2c431', arrowwidth=2,
                    arrowhead=2, arrowsize=1))


arrow((500, 705), (604, 684))
arrow((907, 712), (933, 676))
arrow((461, 1058), (604, 1084))
arrow((1156, 607), (1156, 641))
arrow((1252, 728), (1278, 692))
arrow((1344, 725), (1369, 687))
arrow((1679, 573), (1650, 551))
arrow((1320, 946), (1419, 1020))
arrow((1602, 992), (1602, 1025))

tickfont = dict(family=NARROW, size=12, color=AXIS_TXT)
base_ax = dict(showgrid=False, zeroline=False, showline=False, ticks='', tickfont=tickfont)

fig.update_layout(
    width=W, height=H, margin=dict(l=0, r=0, t=0, b=0, autoexpand=False), autosize=False,
    paper_bgcolor=BG, plot_bgcolor='rgba(0,0,0,0)', showlegend=False, barmode='overlay',
    bargap=0, shapes=shapes, annotations=ann,
    xaxis=dict(base_ax, domain=[0, fx(1030)], range=X_RANGE, anchor='y', showticklabels=False),
    yaxis=dict(base_ax, domain=[fy(808), 1], range=[6918.24, 6954.72], anchor='x', side='right',
               tickvals=[6919 + k for k in range(36)], tickformat='.2f'),
    xaxis2=dict(base_ax, domain=[0, fx(1030)], range=X_RANGE, anchor='y2', tickvals=time_tick_bars,
                ticktext=time_tick_text, ticklabeloverflow='allow'),
    yaxis2=dict(base_ax, domain=[fy(1132), fy(812)], range=[-279, 5305], anchor='x2', side='right',
                tickvals=[400 * k for k in range(14)]),
    xaxis3=dict(base_ax, domain=[fx(1090), fx(1997)], range=FP_RANGE, anchor='y3', showticklabels=False),
    yaxis3=dict(base_ax, domain=[fy(985), 1], range=[6918.34, 6938.32], anchor='x3', side='right',
                tickvals=[6918.5 + 0.5 * k for k in range(40)], tickformat='.2f'),
    xaxis4=dict(base_ax, domain=[fx(1090), fx(1997)], range=FP_RANGE, anchor='y4', showticklabels=False),
    yaxis4=dict(base_ax, domain=[fy(1059), fy(985)], range=[0, 897], anchor='x4', side='right',
                tickvals=[400, 800]),
    xaxis5=dict(base_ax, domain=[fx(1090), fx(1997)], range=FP_RANGE, anchor='y5', tickvals=fp_tick_bars,
                ticktext=fp_tick_text),
    yaxis5=dict(base_ax, domain=[fy(1133), fy(1059)], range=[5.5, -0.5], anchor='x5', showticklabels=False),
    xaxis6=dict(base_ax, domain=[fx(836), fx(1026)], range=[1900, 0], anchor='y', showticklabels=False),
)

# page body margin off so the 2044x1150 figure sits flush in the window
fig.write_html("out.html", config={'displayModeBar': False},
               post_script="document.body.style.margin='0';"
                           "document.body.style.backgroundColor='%s';" % BG)
